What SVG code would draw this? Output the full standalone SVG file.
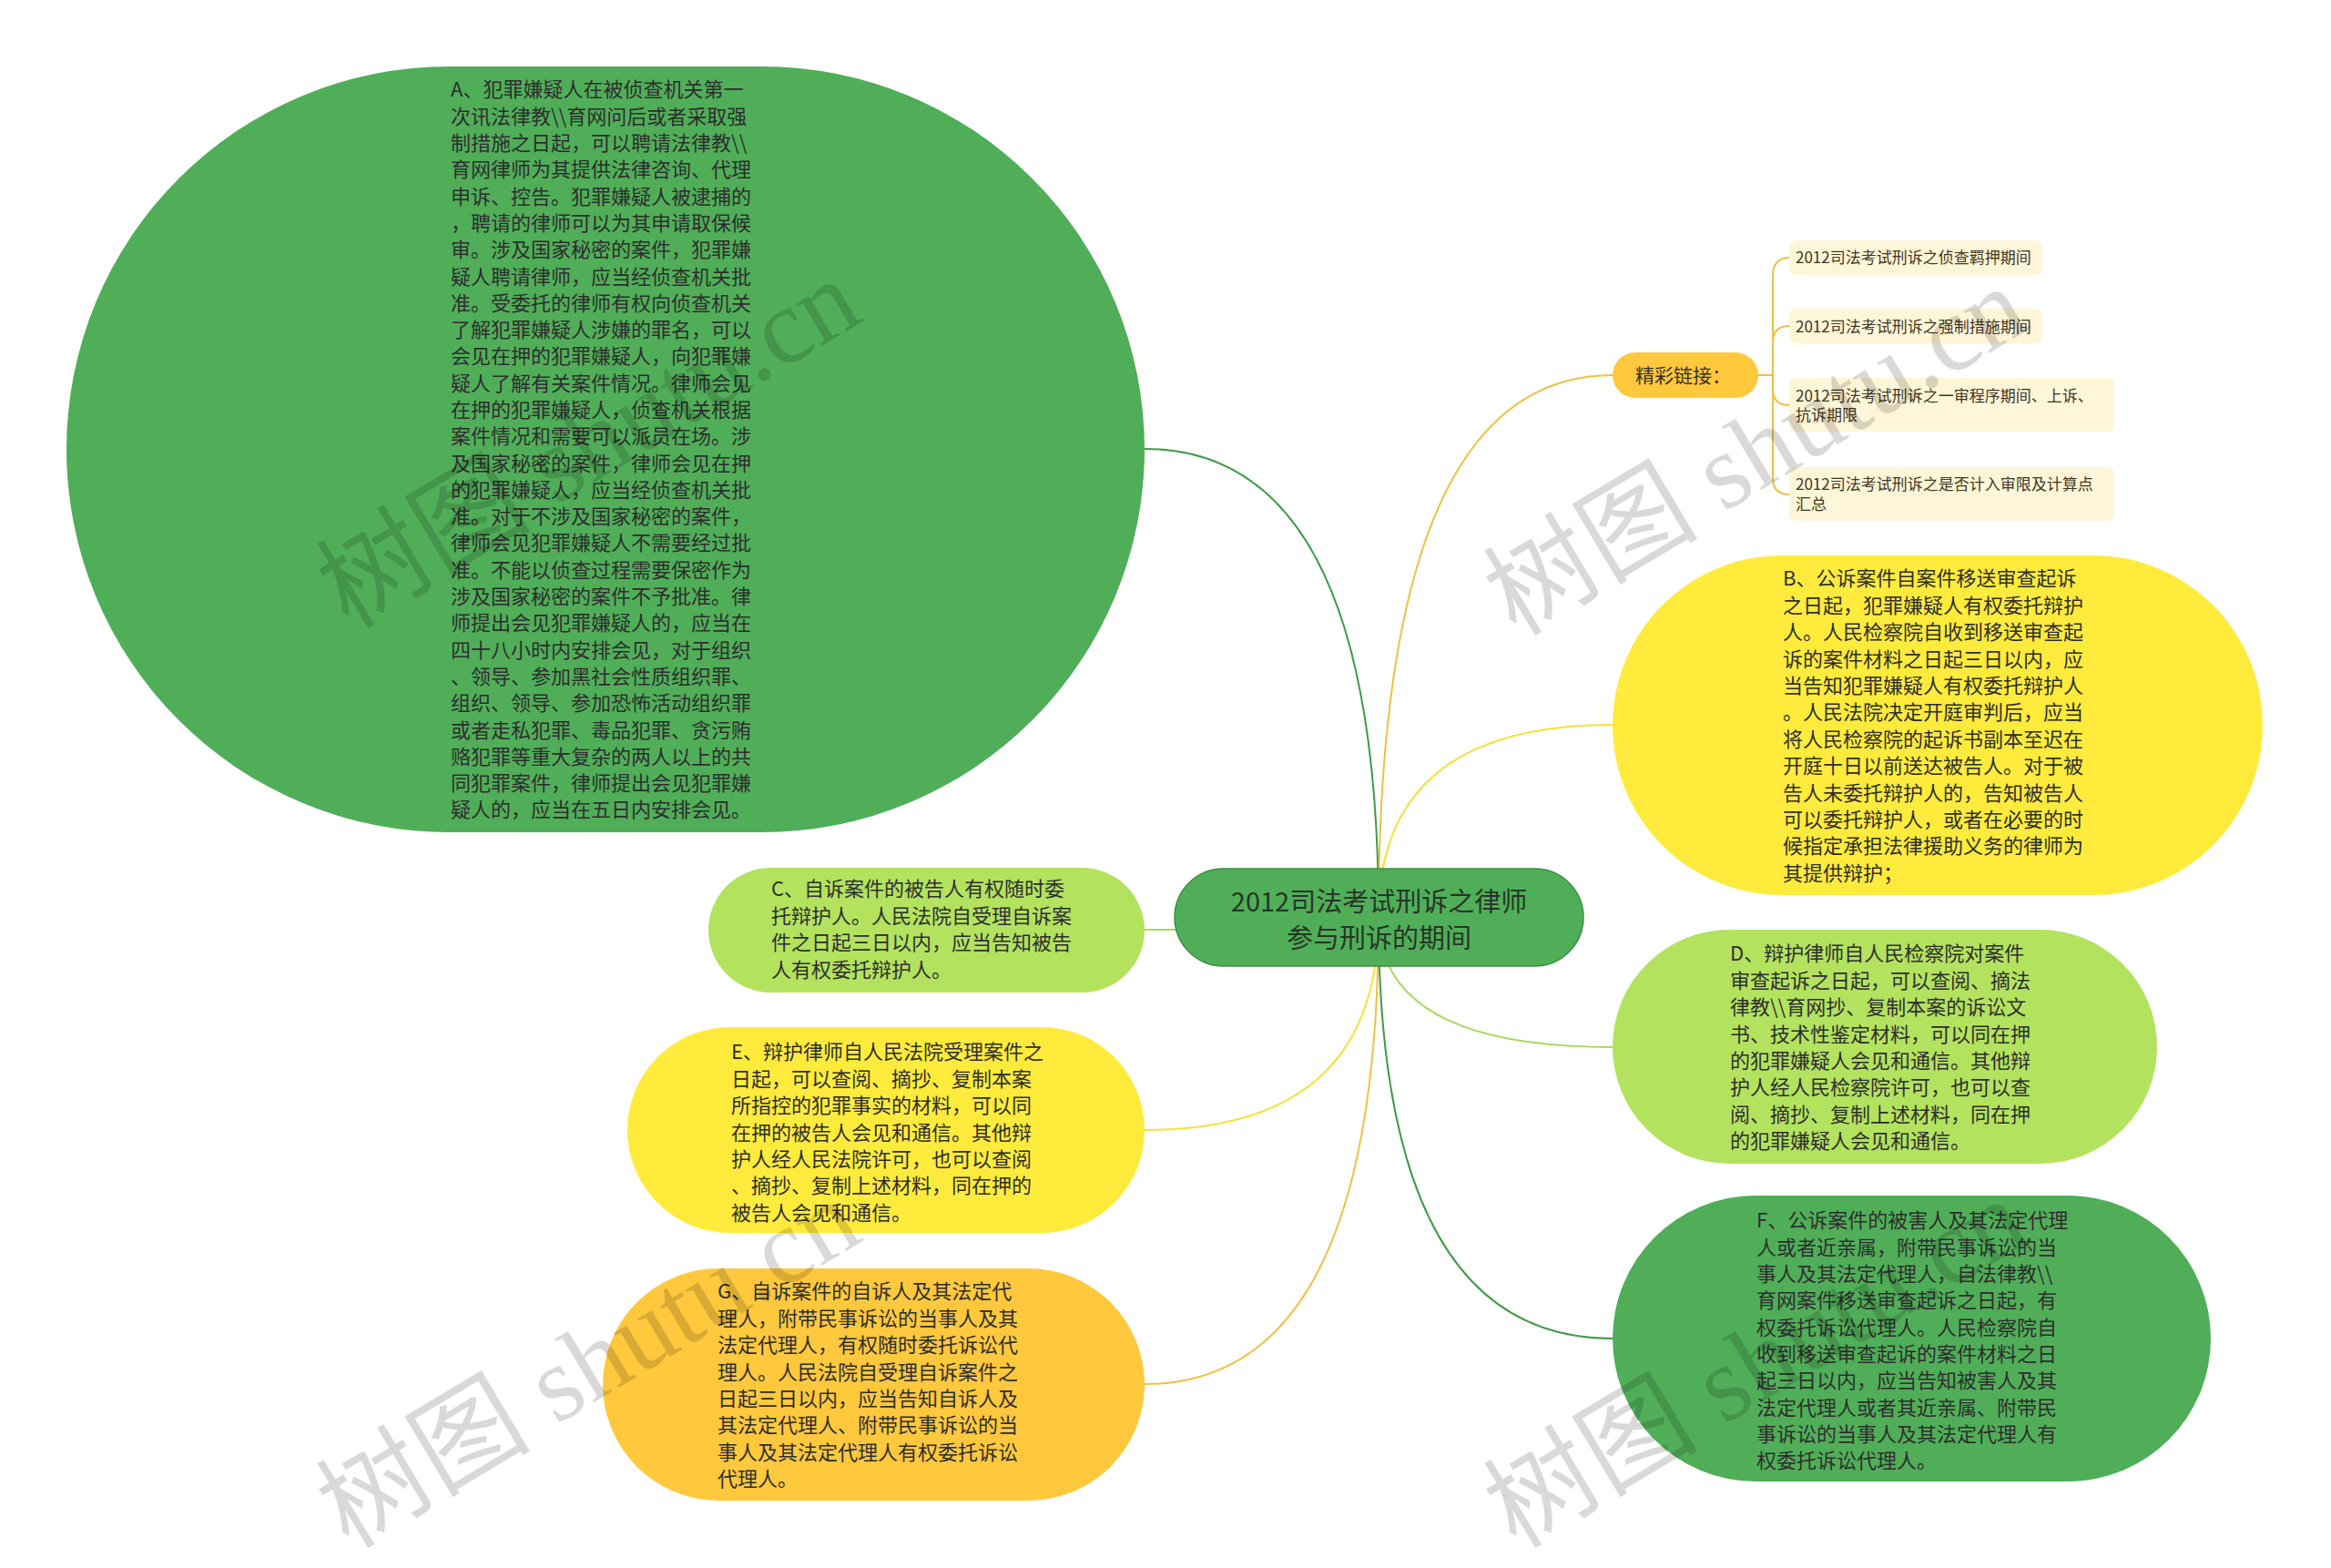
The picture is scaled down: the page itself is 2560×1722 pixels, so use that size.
<svg xmlns="http://www.w3.org/2000/svg" width="2560" height="1722" viewBox="0 0 2560 1722">
<style>
.t{font-family:"Noto Sans CJK SC","Liberation Sans",sans-serif;font-size:22px;fill:#2e2e2e}
.s{font-family:"Noto Sans CJK SC","Liberation Sans",sans-serif;font-size:17px;fill:#3f3622}
.r{font-family:"Noto Sans CJK SC","Liberation Sans",sans-serif;font-size:29px;fill:#263626}
.j{font-family:"Noto Sans CJK SC","Liberation Sans",sans-serif;font-size:21px;fill:#3a3120}
.c{fill:none;stroke-width:2}
.g{fill:#50AE59}
.y{fill:#FFEB3B}
.l{fill:#B3E25F}
.o{fill:#FFC83D}
.i{fill:#FFF5D8}
.w{font-family:"Liberation Serif","Noto Sans CJK SC",serif;font-size:118px;fill:#000;fill-opacity:0.15}
</style>
<rect width="2560" height="1722" fill="#ffffff"/>
<g id="connectors">
<path class="c" stroke="#3E9A48" d="M1514 1007 Q1514 493 1257 493"/>
<path class="c" stroke="#F0C040" d="M1514 1007 Q1514 412 1771 412"/>
<path class="c" stroke="#F4E23C" d="M1514 1007 Q1514 796 1771 796"/>
<path class="c" stroke="#A8DA58" d="M1514 1007 Q1514 1021 1257 1021"/>
<path class="c" stroke="#A8DA58" d="M1514 1007 Q1514 1150 1771 1150"/>
<path class="c" stroke="#F4E23C" d="M1514 1007 Q1514 1241 1257 1241"/>
<path class="c" stroke="#3E9A48" d="M1514 1007 Q1514 1470 1771 1470"/>
<path class="c" stroke="#F0C040" d="M1514 1007 Q1514 1520 1257 1520"/>
<path class="c" stroke="#F0C040" d="M1931 412 L1947 412 L1947 303 Q1947 283 1965 283"/>
<path class="c" stroke="#F0C040" d="M1931 412 L1947 412 L1947 376 Q1947 358 1965 358"/>
<path class="c" stroke="#F0C040" d="M1931 412 L1947 412 L1947 427 Q1947 445 1965 445"/>
<path class="c" stroke="#F0C040" d="M1931 412 L1947 412 L1947 525 Q1947 543 1965 543"/>
</g>
<g id="root">
<rect x="1290" y="954" width="449" height="107" rx="53.5" class="g" stroke="#3B8E43" stroke-width="1.5"/>
<text class="r" text-anchor="middle"><tspan x="1514.5" y="1001">2012司法考试刑诉之律师</tspan><tspan x="1514.5" y="1041">参与刑诉的期间</tspan></text>
</g>
<g id="nodeA">
<rect x="73" y="73" width="1184" height="841" rx="420.5" class="g"/>
<text class="t"><tspan x="495" y="106.4">A、犯罪嫌疑人在被侦查机关第一</tspan><tspan x="495" dy="29.3">次讯法律教\\育网问后或者采取强</tspan><tspan x="495" dy="29.3">制措施之日起，可以聘请法律教\\</tspan><tspan x="495" dy="29.3">育网律师为其提供法律咨询、代理</tspan><tspan x="495" dy="29.3">申诉、控告。犯罪嫌疑人被逮捕的</tspan><tspan x="495" dy="29.3">，聘请的律师可以为其申请取保候</tspan><tspan x="495" dy="29.3">审。涉及国家秘密的案件，犯罪嫌</tspan><tspan x="495" dy="29.3">疑人聘请律师，应当经侦查机关批</tspan><tspan x="495" dy="29.3">准。受委托的律师有权向侦查机关</tspan><tspan x="495" dy="29.3">了解犯罪嫌疑人涉嫌的罪名，可以</tspan><tspan x="495" dy="29.3">会见在押的犯罪嫌疑人，向犯罪嫌</tspan><tspan x="495" dy="29.3">疑人了解有关案件情况。律师会见</tspan><tspan x="495" dy="29.3">在押的犯罪嫌疑人，侦查机关根据</tspan><tspan x="495" dy="29.3">案件情况和需要可以派员在场。涉</tspan><tspan x="495" dy="29.3">及国家秘密的案件，律师会见在押</tspan><tspan x="495" dy="29.3">的犯罪嫌疑人，应当经侦查机关批</tspan><tspan x="495" dy="29.3">准。对于不涉及国家秘密的案件，</tspan><tspan x="495" dy="29.3">律师会见犯罪嫌疑人不需要经过批</tspan><tspan x="495" dy="29.3">准。不能以侦查过程需要保密作为</tspan><tspan x="495" dy="29.3">涉及国家秘密的案件不予批准。律</tspan><tspan x="495" dy="29.3">师提出会见犯罪嫌疑人的，应当在</tspan><tspan x="495" dy="29.3">四十八小时内安排会见，对于组织</tspan><tspan x="495" dy="29.3">、领导、参加黑社会性质组织罪、</tspan><tspan x="495" dy="29.3">组织、领导、参加恐怖活动组织罪</tspan><tspan x="495" dy="29.3">或者走私犯罪、毒品犯罪、贪污贿</tspan><tspan x="495" dy="29.3">赂犯罪等重大复杂的两人以上的共</tspan><tspan x="495" dy="29.3">同犯罪案件，律师提出会见犯罪嫌</tspan><tspan x="495" dy="29.3">疑人的，应当在五日内安排会见。</tspan></text>
</g>
<g id="links">
<rect x="1771" y="387" width="160" height="50" rx="25" class="o"/>
<text class="j" x="1796" y="420">精彩链接：</text>
</g>
<g id="link1">
<rect x="1965" y="264" width="278" height="38" rx="7" class="i"/>
<text class="s" x="1972" y="289">2012司法考试刑诉之侦查羁押期间</text>
</g>
<g id="link2">
<rect x="1965" y="339" width="278" height="38" rx="7" class="i"/>
<text class="s" x="1972" y="365">2012司法考试刑诉之强制措施期间</text>
</g>
<g id="link3">
<rect x="1965" y="415" width="357" height="59" rx="7" class="i"/>
<text class="s"><tspan x="1972" y="440.5">2012司法考试刑诉之一审程序期间、上诉、</tspan><tspan x="1972" dy="21.5">抗诉期限</tspan></text>
</g>
<g id="link4">
<rect x="1965" y="513" width="357" height="59" rx="7" class="i"/>
<text class="s"><tspan x="1972" y="538">2012司法考试刑诉之是否计入审限及计算点</tspan><tspan x="1972" dy="21.5">汇总</tspan></text>
</g>
<g id="nodeB">
<rect x="1771" y="610" width="714" height="373" rx="186.5" class="y"/>
<text class="t"><tspan x="1958" y="643.4">B、公诉案件自案件移送审查起诉</tspan><tspan x="1958" dy="29.4">之日起，犯罪嫌疑人有权委托辩护</tspan><tspan x="1958" dy="29.4">人。人民检察院自收到移送审查起</tspan><tspan x="1958" dy="29.4">诉的案件材料之日起三日以内，应</tspan><tspan x="1958" dy="29.4">当告知犯罪嫌疑人有权委托辩护人</tspan><tspan x="1958" dy="29.4">。人民法院决定开庭审判后，应当</tspan><tspan x="1958" dy="29.4">将人民检察院的起诉书副本至迟在</tspan><tspan x="1958" dy="29.4">开庭十日以前送达被告人。对于被</tspan><tspan x="1958" dy="29.4">告人未委托辩护人的，告知被告人</tspan><tspan x="1958" dy="29.4">可以委托辩护人，或者在必要的时</tspan><tspan x="1958" dy="29.4">候指定承担法律援助义务的律师为</tspan><tspan x="1958" dy="29.4">其提供辩护；</tspan></text>
</g>
<g id="nodeC">
<rect x="778" y="953" width="479" height="137" rx="68.5" class="l"/>
<text class="t"><tspan x="847" y="984.4">C、自诉案件的被告人有权随时委</tspan><tspan x="847" dy="29.4">托辩护人。人民法院自受理自诉案</tspan><tspan x="847" dy="29.4">件之日起三日以内，应当告知被告</tspan><tspan x="847" dy="29.4">人有权委托辩护人。</tspan></text>
</g>
<g id="nodeD">
<rect x="1771" y="1021" width="598" height="257" rx="128.5" class="l"/>
<text class="t"><tspan x="1900" y="1055.4">D、辩护律师自人民检察院对案件</tspan><tspan x="1900" dy="29.4">审查起诉之日起，可以查阅、摘法</tspan><tspan x="1900" dy="29.4">律教\\育网抄、复制本案的诉讼文</tspan><tspan x="1900" dy="29.4">书、技术性鉴定材料，可以同在押</tspan><tspan x="1900" dy="29.4">的犯罪嫌疑人会见和通信。其他辩</tspan><tspan x="1900" dy="29.4">护人经人民检察院许可，也可以查</tspan><tspan x="1900" dy="29.4">阅、摘抄、复制上述材料，同在押</tspan><tspan x="1900" dy="29.4">的犯罪嫌疑人会见和通信。</tspan></text>
</g>
<g id="nodeE">
<rect x="689" y="1128" width="568" height="226" rx="113" class="y"/>
<text class="t"><tspan x="803" y="1163.4">E、辩护律师自人民法院受理案件之</tspan><tspan x="803" dy="29.4">日起，可以查阅、摘抄、复制本案</tspan><tspan x="803" dy="29.4">所指控的犯罪事实的材料，可以同</tspan><tspan x="803" dy="29.4">在押的被告人会见和通信。其他辩</tspan><tspan x="803" dy="29.4">护人经人民法院许可，也可以查阅</tspan><tspan x="803" dy="29.4">、摘抄、复制上述材料，同在押的</tspan><tspan x="803" dy="29.4">被告人会见和通信。</tspan></text>
</g>
<g id="nodeF">
<rect x="1771" y="1313" width="657" height="314" rx="157" class="g"/>
<text class="t"><tspan x="1929" y="1348.4">F、公诉案件的被害人及其法定代理</tspan><tspan x="1929" dy="29.3">人或者近亲属，附带民事诉讼的当</tspan><tspan x="1929" dy="29.3">事人及其法定代理人，自法律教\\</tspan><tspan x="1929" dy="29.3">育网案件移送审查起诉之日起，有</tspan><tspan x="1929" dy="29.3">权委托诉讼代理人。人民检察院自</tspan><tspan x="1929" dy="29.3">收到移送审查起诉的案件材料之日</tspan><tspan x="1929" dy="29.3">起三日以内，应当告知被害人及其</tspan><tspan x="1929" dy="29.3">法定代理人或者其近亲属、附带民</tspan><tspan x="1929" dy="29.3">事诉讼的当事人及其法定代理人有</tspan><tspan x="1929" dy="29.3">权委托诉讼代理人。</tspan></text>
</g>
<g id="nodeG">
<rect x="662" y="1393" width="595" height="255" rx="127.5" class="o"/>
<text class="t"><tspan x="788" y="1426.4">G、自诉案件的自诉人及其法定代</tspan><tspan x="788" dy="29.4">理人，附带民事诉讼的当事人及其</tspan><tspan x="788" dy="29.4">法定代理人，有权随时委托诉讼代</tspan><tspan x="788" dy="29.4">理人。人民法院自受理自诉案件之</tspan><tspan x="788" dy="29.4">日起三日以内，应当告知自诉人及</tspan><tspan x="788" dy="29.4">其法定代理人、附带民事诉讼的当</tspan><tspan x="788" dy="29.4">事人及其法定代理人有权委托诉讼</tspan><tspan x="788" dy="29.4">代理人。</tspan></text>
</g>
<g id="watermarks">
<text class="w" transform="translate(383 692) rotate(-31)">树图 shutu.cn</text>
<text class="w" transform="translate(1665 700) rotate(-31)">树图 shutu.cn</text>
<text class="w" transform="translate(383 1702) rotate(-31)">树图 shutu.cn</text>
<text class="w" transform="translate(1665 1702) rotate(-31)">树图 shutu.cn</text>
</g>
</svg>
